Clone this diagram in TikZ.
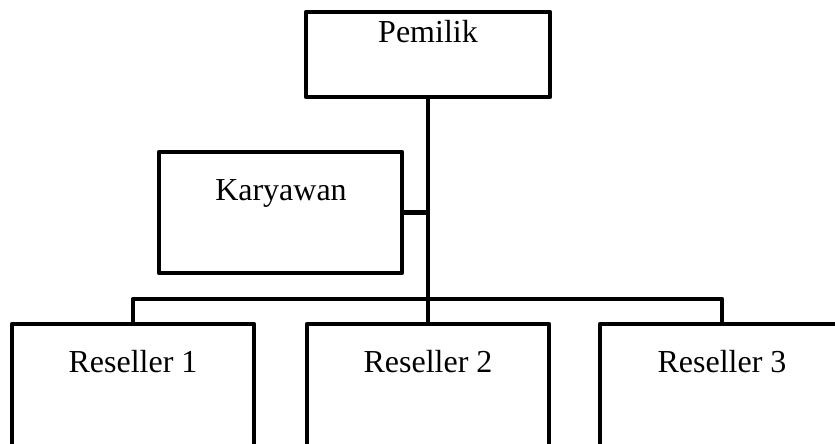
\documentclass[tikz,border=0pt]{standalone}
\usepackage{fontspec}
\setmainfont{Liberation Serif}
\begin{document}
\begin{tikzpicture}[x=1pt,y=-1pt,
  boxnode/.style={draw=black, line width=4.5pt, line join=round, rectangle, inner sep=0pt, outer sep=0pt},
  lbl/.style={anchor=base, inner sep=0pt, font=\fontsize{32}{38}\selectfont},
  conn/.style={draw=black, line width=4.5pt, line join=round}]
\useasboundingbox (0,0) rectangle (835,444);
\clip (0,0) rectangle (835,444);
\node[boxnode, minimum width=244pt, minimum height=85pt] (pem) at (428,54.5) {};
\node[boxnode, minimum width=243pt, minimum height=121pt] (kar) at (280.5,212.5) {};
\node[boxnode, minimum width=242pt, minimum height=122pt] (r1) at (133,385) {};
\node[boxnode, minimum width=242pt, minimum height=122pt] (r2) at (428,385) {};
\node[boxnode, minimum width=244pt, minimum height=122pt] (r3) at (722,385) {};
\node[lbl] (tpem) at (428,43) {Pemilik};
\node[lbl] (tkar) at (281,200) {Karyawan};
\node[lbl] (tr1) at (133,372) {Reseller 1};
\node[lbl] (tr2) at (428,372) {Reseller 2};
\node[lbl] (tr3) at (722,372) {Reseller 3};
\coordinate (j) at (428,299);
\draw[conn] (pem.south) -- (j);
\draw[conn] (kar.east) -- (kar.east -| pem.south);
\draw[conn] (r1.north) |- (j) -| (r3.north);
\draw[conn] (j) -- (r2.north);
\end{tikzpicture}
\end{document}
